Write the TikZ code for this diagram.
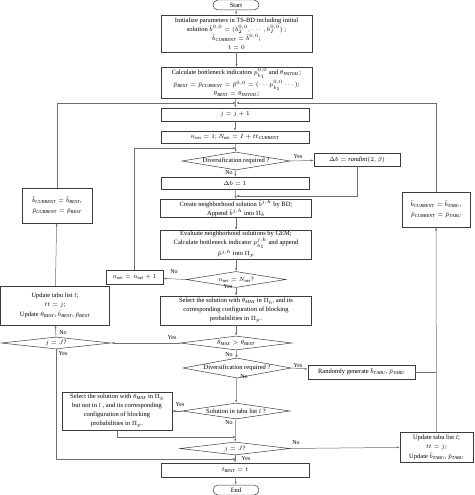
\documentclass[tikz,border=0pt]{standalone}
\usepackage{fontspec}
\setmainfont{Liberation Serif}
\usepackage{amsmath,amssymb}
\usetikzlibrary{shapes.geometric,shapes.misc,arrows.meta,positioning,calc}
\definecolor{LineGray}{RGB}{110,110,110}
\definecolor{BoxGray}{RGB}{60,60,60}
\newcommand{\cur}{\mathit{CURRENT}}
\newcommand{\bst}{\mathit{BEST}}
\newcommand{\tabu}{\mathit{TABU}}

\begin{document}
\begin{tikzpicture}[x=1pt,y=-1pt,
    font=\fontsize{6.5}{9}\selectfont,
    box/.style={draw=BoxGray,line width=0.5pt,rectangle,align=center,inner sep=1pt},
    decide/.style={draw=BoxGray,line width=0.5pt,diamond,aspect=6,inner sep=0pt,align=center},
    term/.style={draw=BoxGray,line width=0.5pt,rounded rectangle,minimum width=46,minimum height=10,inner sep=0pt},
    lbl/.style={inner sep=0pt,font=\fontsize{6}{7}\selectfont},
    line/.style={draw=LineGray,line width=0.5pt},
    arr/.style={line,-{Latex[length=3pt,width=2.2pt]}}]
  \useasboundingbox (0,0) rectangle (474,495);

  % main column
  \node[term] (start) at (236,5) {Start};
  \node[box,minimum width=151,minimum height=37] (init) at (236.5,33.5) {Initialize parameters in TS-BD including initial\\
    solution $\bar b^{0,0}=(b_2^{0,0},\cdots,b_I^{0,0})$ ;\\ $\bar b_{\cur}=\bar b^{0,0}$;\\ $t=0$};
  \node[box,minimum width=151,minimum height=29] (calc) at (236.5,82.5) {Calculate bottleneck indicators $p_{b_1}^{0,0}$ and $\theta_{\mathit{INITIAL}}$;\\[1pt]
    $\bar p_{\bst}=\bar p_{\cur}=\bar p^{0,0}=(\cdots p_{b_1}^{0,0}\cdots)$;\\ $\theta_{\bst}=\theta_{\mathit{INITIAL}}$;};
  \coordinate (m1) at (236,103);
  \node[box,minimum width=148,minimum height=13] (jinc) at (235,114.5) {$j=j+1$};
  \node[box,minimum width=148,minimum height=12] (nnei) at (235,137) {$n_{\mathrm{nei}}=1;N_{\mathrm{nei}}=I+tt_{\cur}$};
  \coordinate (m2) at (236,148);
  \node[decide,minimum width=108,minimum height=18] (div1) at (236,161) {Diversification required ?};
  \node[box,minimum width=86,minimum height=13] (rint) at (357,159.5) {$\Delta b=\mathit{randint}(2,\beta)$};
  \node[box,minimum width=148,minimum height=12] (done) at (235,183) {$\Delta b=1$};
  \coordinate (m3) at (236,196);
  \node[box,minimum width=151,minimum height=17] (create) at (236,208.5) {Create neighborhood solution $\bar b^{j,h}$ by BD;\\ Append $\bar b^{j,h}$ into $\Pi_b$};
  \node[box,minimum width=151,minimum height=27] (eval) at (236,244.5) {Evaluate neighborhood solutions by GEM;\\
    Calculate bottleneck indicator $p_{b_1}^{j,h}$ and append\\ $\bar p^{j,h}$ into $\Pi_p$};
  \node[decide,minimum width=100,minimum height=16] (neq) at (236,279.5) {$n_{\mathrm{nei}}=N_{\mathrm{nei}}$?};
  \node[box,minimum width=57,minimum height=14] (ninc) at (134.5,277) {$n_{\mathrm{nei}}=n_{\mathrm{nei}}+1$};
  \node[box,minimum width=151,minimum height=29] (sel) at (236,310.5) {Select the solution with $\theta_{\mathit{MAX}}$ in $\Pi_b$, and its\\
    corresponding configuration of blocking\\ probabilities in $\Pi_p$.};
  \node[decide,minimum width=112,minimum height=14] (gt) at (236,343) {$\theta_{\mathit{MAX}}>\theta_{\bst}$};
  \node[decide,minimum width=108,minimum height=20] (div2) at (237,368) {Diversification required ?};
  \node[box,minimum width=107,minimum height=14] (rgen) at (361.5,372) {Randomly generate $\bar b_{\tabu},\bar p_{\tabu}$};
  \node[decide,minimum width=108,minimum height=16] (intabu) at (236,411) {Solution in tabu list $l$ ?};
  \node[box,minimum width=110,minimum height=38] (sel2) at (117,411) {Select the solution with $\theta_{\mathit{MAX}}$ in $\Pi_b$\\
    but not in $l$ , and its corresponding\\ configuration of blocking\\ probabilities in $\Pi_p$.};
  \coordinate (m4) at (236,437);
  \node[decide,minimum width=110,minimum height=13] (jend) at (235,448.5) {$j=J$?};
  \coordinate (m5) at (236,459);
  \node[box,minimum width=148,minimum height=14] (tbest) at (235,470) {$t_{\bst}=t$};
  \node[term] (end) at (236,490) {End};

  % side columns
  \node[box,minimum width=70,minimum height=35] (curb) at (57,205.5) {$\bar b_{\cur}=\bar b_{\bst}$,\\[1pt] $\bar p_{\cur}=\bar p_{\bst}$};
  \node[box,minimum width=109,minimum height=39] (updl) at (55,305.5) {Update tabu list $l$;\\ $tt=j$;\\[1pt] Update $\theta_{\bst}$, $\bar b_{\bst}$, $\bar p_{\bst}$};
  \node[decide,minimum width=110,minimum height=12] (jtop) at (56,343) {$j=J$?};
  \node[box,minimum width=68,minimum height=35] (curt) at (436,209.5) {$\bar b_{\cur}=\bar b_{\tabu}$,\\[1pt] $\bar p_{\cur}=\bar p_{\tabu}$};
  \node[box,minimum width=73,minimum height=30] (updr) at (436.5,447) {Update tabu list $l$;\\ $tt=j$;\\[1pt] Update $\bar b_{\tabu}$, $\bar p_{\tabu}$};

  % yes / no
  \node[lbl] (y1) at (298,157) {Yes};
  \node[lbl] (n1) at (229,173) {No};
  \node[lbl] (n2) at (174,272) {No};
  \node[lbl] (y2) at (228,287) {Yes};
  \node[lbl] (y3) at (172,338) {Yes};
  \node[lbl] (n3) at (229,355) {No};
  \node[lbl] (y4) at (298,366) {Yes};
  \node[lbl] (n4) at (244,377) {No};
  \node[lbl] (y5) at (180,405) {Yes};
  \node[lbl] (n5) at (229,423) {No};
  \node[lbl] (n6) at (296,443) {No};
  \node[lbl] (y6) at (246,459) {Yes};
  \node[lbl] (n7) at (63,333) {No};
  \node[lbl] (y7) at (63,354) {Yes};

  % connectors
  \draw[arr] (start) -- (init);
  \draw[arr] (init) -- (calc);
  \draw[arr] (calc) -- (jinc);
  \draw[arr] (jinc) -- (nnei);
  \draw[arr] (nnei) -- (div1);
  \draw[arr] (div1.east) -- (rint);
  \draw[arr] (div1) -- (done);
  \draw[arr] (rint.south) |- (m3);
  \draw[arr] (done) -- (create);
  \draw[arr] (create) -- (eval);
  \draw[arr] (eval) -- (neq);
  \draw[arr] (neq.west) -- (ninc);
  \draw[arr] (ninc.north) |- (m2);
  \draw[arr] (neq) -- (sel);
  \draw[arr] (sel) -- (gt);
  \draw[arr] (gt.west) -- (jtop.east);
  \draw[arr] (gt) -- (div2);
  \draw[arr] (div2.east) -- (rgen);
  \draw[line] (rgen.east) -- (curt.south |- rgen.east);
  \draw[arr] (div2) -- (intabu);
  \draw[arr] (intabu.west) -- (sel2);
  \draw[arr] (sel2.south) |- (m4);
  \draw[arr] (intabu) -- (jend);
  \draw[arr] (jend.east) -- (updr);
  \draw[arr] (jend) -- (tbest);
  \draw[arr] (tbest) -- (end);
  \draw[arr] (updr) -- (curt);
  \draw[arr] (curt.north) |- (m1);
  \draw[arr] (jtop) -- (updl);
  \draw[arr] (updl) -- (curb);
  \draw[arr] (curb.north) |- (m1);
  \draw[arr] (jtop.south) |- (m5);
\end{tikzpicture}
\end{document}
